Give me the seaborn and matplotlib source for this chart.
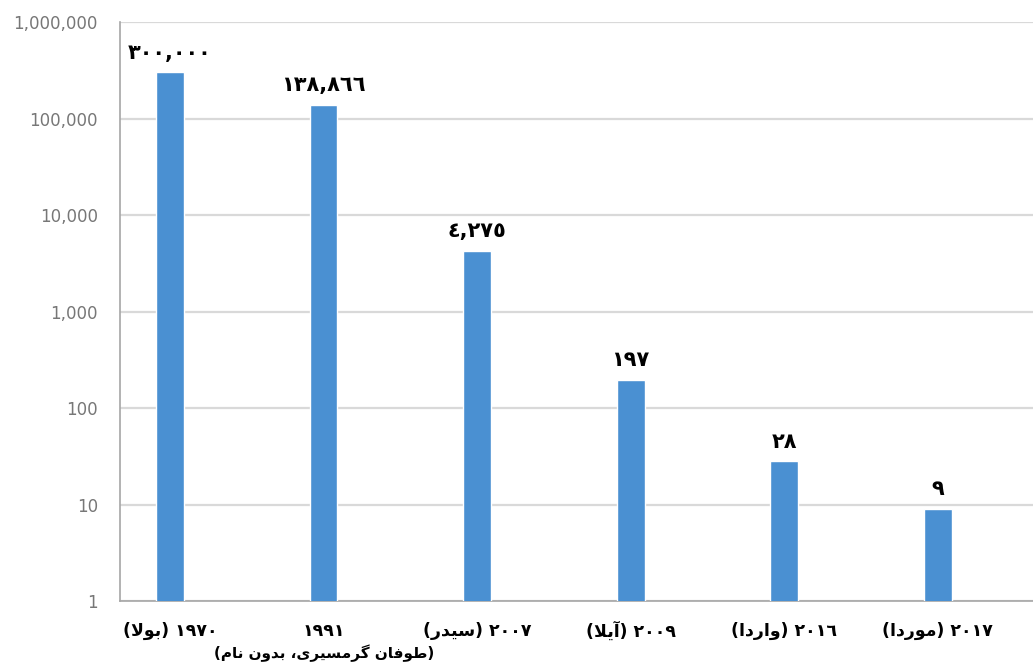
import matplotlib
matplotlib.use("Agg")
import matplotlib.pyplot as plt
import matplotlib.ticker as mticker
import seaborn as sns
import pandas as pd

# ---- data -------------------------------------------------------------
years = ["1970", "1991", "2007", "2009", "2016", "2017"]
storm_names = ["بولا", "طوفان گرمسیری، بدون نام", "سیدر", "آیلا", "واردا", "موردا"]
deaths = [300000, 138866, 4275, 197, 28, 9]
y_ticks = [1, 10, 100, 1000, 10000, 100000, 1000000]

BAR_COLOR = "#4a90d2"

# ---- minimal Arabic/Persian shaping (matplotlib draws glyphs LTR, unshaped)
# forms: (isolated, final, initial, medial); 2-tuples are right-joining only
FORMS = {
    "ا": ("\uFE8D", "\uFE8E"),
    "آ": ("\uFE81", "\uFE82"),
    "د": ("\uFEA9", "\uFEAA"),
    "ر": ("\uFEAD", "\uFEAE"),
    "و": ("\uFEED", "\uFEEE"),
    "ب": ("\uFE8F", "\uFE90", "\uFE91", "\uFE92"),
    "ط": ("\uFEC1", "\uFEC2", "\uFEC3", "\uFEC4"),
    "ف": ("\uFED1", "\uFED2", "\uFED3", "\uFED4"),
    "ن": ("\uFEE5", "\uFEE6", "\uFEE7", "\uFEE8"),
    "م": ("\uFEE1", "\uFEE2", "\uFEE3", "\uFEE4"),
    "س": ("\uFEB1", "\uFEB2", "\uFEB3", "\uFEB4"),
    "ل": ("\uFEDD", "\uFEDE", "\uFEDF", "\uFEE0"),
    "ی": ("\uFBFC", "\uFBFD", "\uFBFE", "\uFBFF"),
    "گ": ("\uFB92", "\uFB93", "\uFB94", "\uFB95"),
    "LA": ("\uFEFB", "\uFEFC"),
    "LAA": ("\uFEF5", "\uFEF6"),
}


def to_visual(text):
    # merge lam + alef into ligature tokens
    tokens, i = [], 0
    while i < len(text):
        if text[i] == "ل" and i + 1 < len(text) and text[i + 1] in "اآ":
            tokens.append("LA" if text[i + 1] == "ا" else "LAA")
            i += 2
        else:
            tokens.append(text[i])
            i += 1
    out = []
    for k, t in enumerate(tokens):
        if t not in FORMS:
            out.append(t)
            continue
        f = FORMS[t]
        prev_joins = k > 0 and tokens[k - 1] in FORMS and len(FORMS[tokens[k - 1]]) == 4
        next_joins = len(f) == 4 and k + 1 < len(tokens) and tokens[k + 1] in FORMS
        if prev_joins and next_joins:
            out.append(f[3])
        elif prev_joins:
            out.append(f[1])
        elif next_joins:
            out.append(f[2])
        else:
            out.append(f[0])
    return "".join(reversed(out))


ARABIC_DIGITS = str.maketrans("0123456789", "٠١٢٣٤٥٦٧٨٩")


def ar_num(s):
    return str(s).translate(ARABIC_DIGITS)


def is_long(name):
    return len(name) > 10


def tick_label(year, name):
    # long names go on their own line below the year (drawn separately)
    if is_long(name):
        return ar_num(year)
    return f"({to_visual(name)}) {ar_num(year)}"


labels = [tick_label(y, n) for y, n in zip(years, storm_names)]
df = pd.DataFrame({"label": labels, "deaths": deaths})

# ---- figure ------------------------------------------------------------
sns.set_theme(style="white")
plt.rcParams["font.family"] = ["DejaVu Sans"]

fig = plt.figure(figsize=(10.33, 6.65), dpi=100)
ax = fig.add_axes([0.1162, 0.0962, 0.8838, 0.8707])
ax.set_yscale("log")

sns.barplot(data=df, x="label", y="deaths", color=BAR_COLOR, saturation=1,
            width=0.18, ax=ax, zorder=3)

ax.set_ylim(1, 1e6)
ax.set_xlim(-0.326, 5.62)
ax.yaxis.set_major_locator(mticker.FixedLocator(y_ticks))
ax.yaxis.set_minor_locator(mticker.NullLocator())
ax.yaxis.set_major_formatter(mticker.FuncFormatter(lambda v, p: f"{int(round(v)):,}"))

ax.grid(axis="y", color="#d9d9d9", linewidth=1.6, zorder=0)
ax.set_axisbelow(True)
for side in ("top", "right"):
    ax.spines[side].set_visible(False)
for side in ("left", "bottom"):
    ax.spines[side].set_color("#a6a6a6")
    ax.spines[side].set_linewidth(1.2)

ax.tick_params(axis="y", labelsize=12, labelcolor="#777777", length=0, pad=16)
ax.tick_params(axis="x", labelsize=12.5, labelcolor="black", length=0, pad=15)
for t in ax.get_xticklabels():
    t.set_fontweight("bold")
ax.set_xlabel("")
ax.set_ylabel("")

# second line for long storm descriptions
for i, (y, n) in enumerate(zip(years, storm_names)):
    if is_long(n):
        ax.annotate(f"({to_visual(n)})", (i, 0), xycoords=("data", "axes fraction"),
                    xytext=(0, -31), textcoords="offset points",
                    ha="center", va="top", fontsize=11, fontweight="bold",
                    color="black")

# value labels above each bar
for i, v in enumerate(deaths):
    ax.annotate(ar_num(f"{v:,}"), (i, v), xytext=(0, 7), textcoords="offset points",
                ha="center", va="bottom", fontsize=15, fontweight="bold",
                color="black")

fig.savefig("out.png", dpi=100)
